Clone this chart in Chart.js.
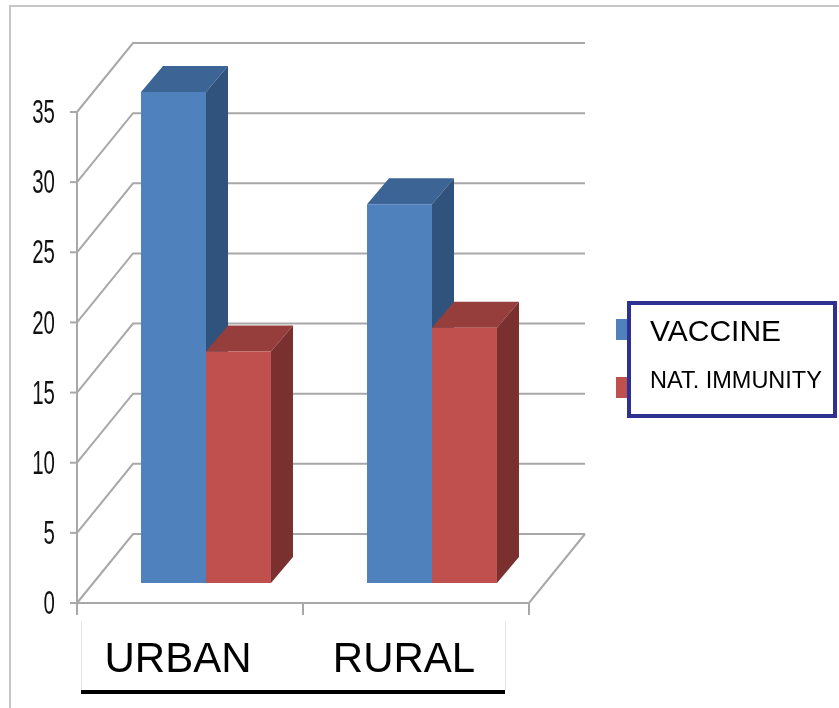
<!DOCTYPE html>
<html>
<head>
<meta charset="utf-8">
<script src="https://cdn.jsdelivr.net/npm/chart.js@4/dist/chart.umd.min.js"></script>
<style>
  html, body { margin: 0; padding: 0; background: #ffffff; }
  #chart { display: block; }
</style>
</head>
<body>
<canvas id="chart" width="839" height="708"></canvas>
<script>
// Categories and series values
const categories = ['URBAN', 'RURAL'];
const vaccine = [35, 27];
const natImmunity = [16.5, 18.2];
const yTickValues = [0, 5, 10, 15, 20, 25, 30, 35];
const seriesNames = ['VACCINE', 'NAT. IMMUNITY'];

// Face shading for the 3D boxes: [front, top, side]
const blueShades = ['#4F81BD', '#3C6494', '#30537D'];
const redShades = ['#C0504D', '#953E3B', '#7A302E'];

// Perspective offsets (pixels)
const WALL_DX = 56, WALL_DY = -69;   // back wall relative to front plane
const BAR_DX = 16, BAR_DY = -20;     // bar front plane relative to front plane
const DEPTH_DX = 22, DEPTH_DY = -26; // bar depth

const GRID = '#A8A8A8';

const threeD = {
  id: 'threeD',
  beforeDraw(chart) {
    const ctx = chart.ctx;
    const ys = chart.scales.y, xs = chart.scales.x;
    const area = chart.chartArea;
    ctx.save();
    ctx.fillStyle = '#ffffff';
    ctx.fillRect(0, 0, chart.width, chart.height);

    // outer frame
    ctx.strokeStyle = '#C6C6C6';
    ctx.lineWidth = 2;
    ctx.strokeRect(10, 6, chart.width + 20, chart.height + 20);

    // back wall gridlines and left wall diagonals
    ctx.strokeStyle = GRID;
    ctx.lineWidth = 2;
    yTickValues.forEach(v => {
      const y = ys.getPixelForValue(v);
      ctx.beginPath();
      ctx.moveTo(area.left, y);
      ctx.lineTo(area.left + WALL_DX, y + WALL_DY);
      ctx.lineTo(area.right + WALL_DX, y + WALL_DY);
      ctx.stroke();
      // tick mark
      ctx.beginPath();
      ctx.moveTo(area.left - 7, y);
      ctx.lineTo(area.left, y);
      ctx.stroke();
    });

    // front value axis
    ctx.beginPath();
    ctx.moveTo(area.left, ys.getPixelForValue(35));
    ctx.lineTo(area.left, area.bottom);
    ctx.stroke();

    // floor front edge and right edge
    ctx.beginPath();
    ctx.moveTo(area.left, area.bottom);
    ctx.lineTo(area.right, area.bottom);
    ctx.lineTo(area.right + WALL_DX, area.bottom + WALL_DY);
    ctx.stroke();

    // category ticks
    const step = (area.right - area.left) / categories.length;
    for (let i = 0; i <= categories.length; i++) {
      const x = area.left + i * step;
      ctx.beginPath();
      ctx.moveTo(x, area.bottom);
      ctx.lineTo(x, area.bottom + 12);
      ctx.stroke();
    }

    // value labels (condensed)
    ctx.fillStyle = '#111111';
    ctx.textAlign = 'right';
    ctx.textBaseline = 'middle';
    ctx.font = '33px "Liberation Sans", Arial, sans-serif';
    yTickValues.forEach(v => {
      const y = ys.getPixelForValue(v);
      ctx.save();
      ctx.translate(area.left - 22, y + 2);
      ctx.scale(0.62, 1);
      ctx.fillText(String(v), 0, 0);
      ctx.restore();
    });

    // category label box
    ctx.strokeStyle = '#E4E4E4';
    ctx.lineWidth = 1;
    ctx.beginPath();
    ctx.moveTo(81.5, 622);
    ctx.lineTo(81.5, 690);
    ctx.moveTo(505.5, 622);
    ctx.lineTo(505.5, 690);
    ctx.stroke();
    ctx.strokeStyle = '#000000';
    ctx.lineWidth = 4;
    ctx.beginPath();
    ctx.moveTo(81, 692);
    ctx.lineTo(505, 692);
    ctx.stroke();

    ctx.fillStyle = '#000000';
    ctx.textAlign = 'center';
    ctx.textBaseline = 'middle';
    ctx.font = '42px "Liberation Sans", Arial, sans-serif';
    categories.forEach((c, i) => {
      ctx.fillText(c, xs.getPixelForValue(i) - 12, 660);
    });

    // legend
    const swatchY = [319, 377];
    chart.data.datasets.forEach((ds, i) => {
      ctx.fillStyle = ds.backgroundColor;
      ctx.fillRect(616, swatchY[i], 14, 21);
    });
    ctx.strokeStyle = '#2E3192';
    ctx.lineWidth = 4;
    ctx.strokeRect(629, 303, 206, 113);
    ctx.fillStyle = '#000000';
    ctx.textAlign = 'left';
    ctx.textBaseline = 'middle';
    ctx.font = '30px "Liberation Sans", Arial, sans-serif';
    ctx.fillText(chart.data.datasets[0].label, 650, 333);
    ctx.font = '23.5px "Liberation Sans", Arial, sans-serif';
    ctx.fillText(chart.data.datasets[1].label, 650, 382);
    ctx.restore();
  },
  beforeDatasetsDraw(chart) {
    const ctx = chart.ctx;
    const shades = [blueShades, redShades];
    ctx.save();
    chart.data.datasets.forEach((ds, di) => {
      const meta = chart.getDatasetMeta(di);
      meta.data.forEach(bar => {
        const L = bar.x - bar.width / 2 + BAR_DX;
        const R = bar.x + bar.width / 2 + BAR_DX;
        const T = bar.y + BAR_DY;
        const B = bar.base + BAR_DY;
        // top face
        ctx.fillStyle = shades[di][1];
        ctx.beginPath();
        ctx.moveTo(L, T);
        ctx.lineTo(L + DEPTH_DX, T + DEPTH_DY);
        ctx.lineTo(R + DEPTH_DX, T + DEPTH_DY);
        ctx.lineTo(R, T);
        ctx.closePath();
        ctx.fill();
        // side face
        ctx.fillStyle = shades[di][2];
        ctx.beginPath();
        ctx.moveTo(R, T);
        ctx.lineTo(R + DEPTH_DX, T + DEPTH_DY);
        ctx.lineTo(R + DEPTH_DX, B + DEPTH_DY);
        ctx.lineTo(R, B);
        ctx.closePath();
        ctx.fill();
      });
    });
    ctx.restore();
    ctx.save();
    ctx.translate(BAR_DX, BAR_DY);
  },
  afterDatasetsDraw(chart) {
    chart.ctx.restore();
  }
};

new Chart(document.getElementById('chart'), {
  type: 'bar',
  data: {
    labels: categories,
    datasets: [
      { label: seriesNames[0], data: vaccine, backgroundColor: blueShades[0], borderWidth: 0, clip: false },
      { label: seriesNames[1], data: natImmunity, backgroundColor: redShades[0], borderWidth: 0, clip: false }
    ]
  },
  options: {
    responsive: false,
    animation: false,
    events: [],
    layout: { padding: { left: 77, right: 310, top: 112, bottom: 105 } },
    datasets: { bar: { categoryPercentage: 0.575, barPercentage: 1 } },
    plugins: { legend: { display: false }, tooltip: { enabled: false } },
    scales: {
      x: { display: false },
      y: { display: false, min: 0, max: 35 }
    }
  },
  plugins: [threeD]
});
</script>
</body>
</html>
